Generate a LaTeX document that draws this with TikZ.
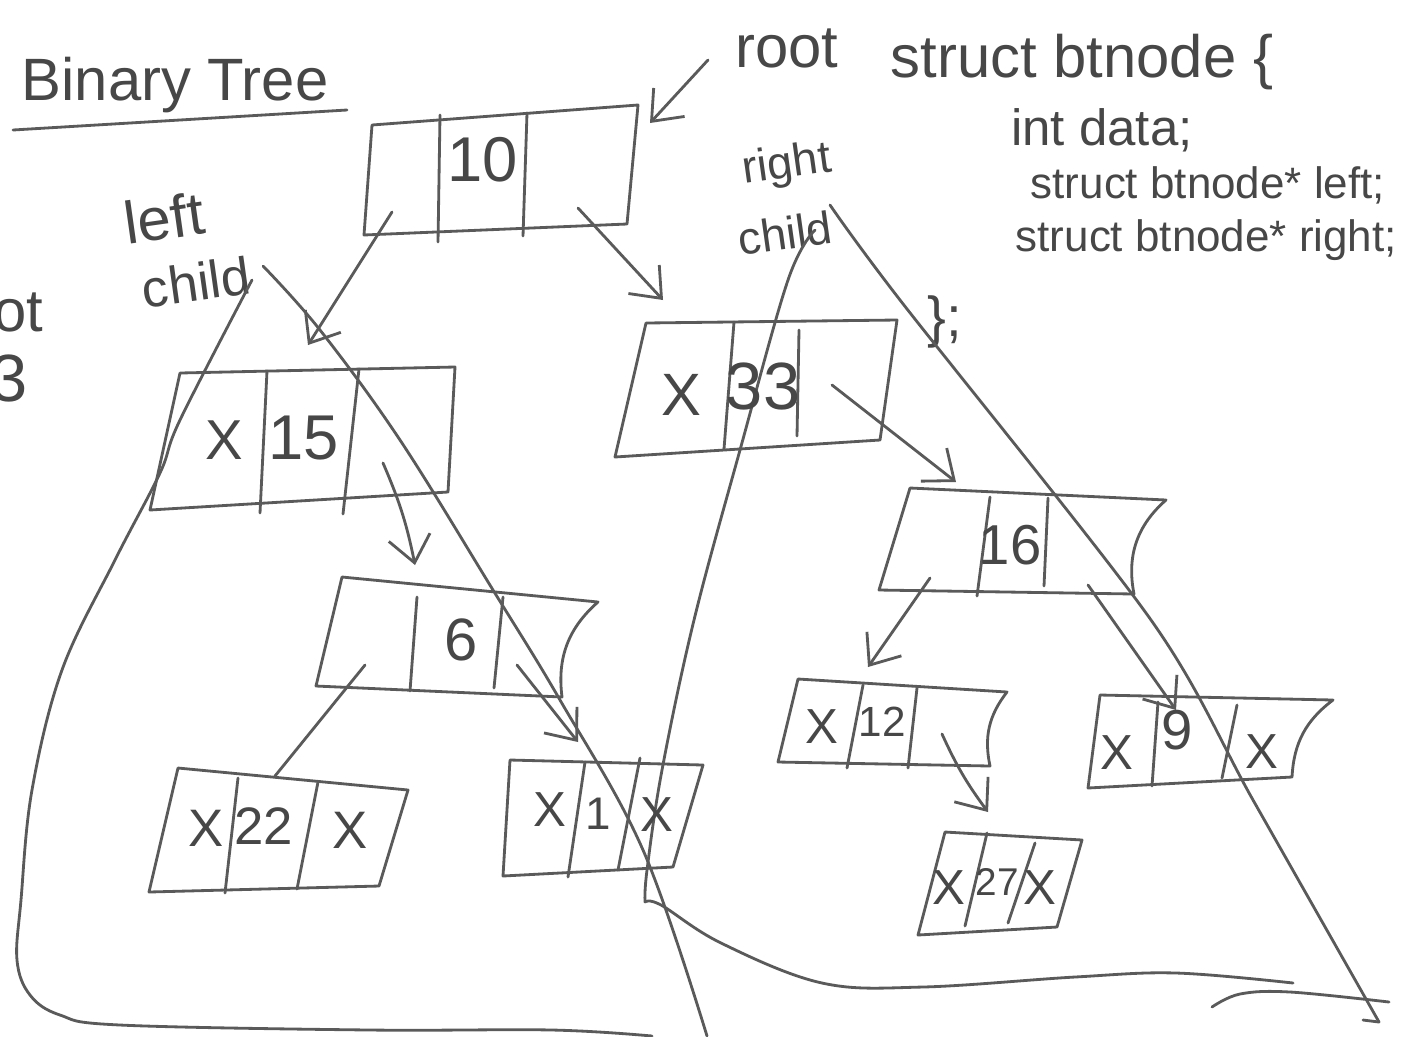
\documentclass[tikz,border=0pt]{standalone}
\usepackage{fontspec}
\setmainfont{Liberation Sans}
\usetikzlibrary{arrows.meta,calc}
\definecolor{ink}{HTML}{5A5A5A}
\definecolor{pencil}{HTML}{474747}
\tikzset{
  pen/.style={draw=ink, line width=0.8pt, line cap=round, line join=round},
  ptr/.style={pen, -{Straight Barb[length=2.6mm,width=4.2mm]}},
  hand/.style={text=pencil, inner sep=0pt, font=\fontsize{#1}{#1}\selectfont},
  hand/.default=16,
  rside/.style={}, lside/.style={}
}
% name, TL, TR, BR, BL, divider1 top, divider1 bottom, divider2 top, divider2 bottom
\newcommand\btbox[9]{%
  \coordinate (#1-tl) at (#2);
  \coordinate (#1-tr) at (#3);
  \coordinate (#1-br) at (#4);
  \coordinate (#1-bl) at (#5);
  \coordinate (#1-d1t) at (#6);
  \coordinate (#1-d1b) at (#7);
  \coordinate (#1-d2t) at (#8);
  \coordinate (#1-d2b) at (#9);
  \draw[pen] (#1-tl) -- (#1-tr) to[rside] (#1-br) -- (#1-bl) to[lside] (#1-tl);
  \draw[pen] (#1-d1t) -- (#1-d1b);
  \draw[pen] (#1-d2t) -- (#1-d2b);
}
\begin{document}
\begin{tikzpicture}[x=0.01cm,y=-0.01cm]
\useasboundingbox (0,0) rectangle (1413,1036);
\fill[white] (0,0) rectangle (1413,1036);

% ---------- headings and notes ----------
\node[hand=17] (title) at (175,85) {Binary Tree};
\coordinate (ul-a) at (13,130);
\coordinate (ul-b) at (347,110);
\draw[pen] (ul-a) -- (ul-b);

\node[hand=17] (rootlbl) at (787,48) {root};
\coordinate (rootarr) at (708,60);

\node[hand=17] (s1) at (1082,62) {struct btnode \{};
\node[hand=14.5] (s2) at (1102,130) {int data;};
\node[hand=12.5, anchor=west] (s3) at (1030,185) {struct btnode* left;};
\node[hand=12.5, anchor=west] (s4) at (1015,240) {struct btnode* right;};
\node[hand=16] (s5) at (945,322) {\};};

\node[hand=17, anchor=east] (cut1) at (44,312) {ot};
\node[hand=19, anchor=east] (cut2) at (28,378) {3};

\node[hand=17, rotate=8] (lc1) at (164,218) {left};
\node[hand=15, rotate=8] (lc2) at (196,282) {child};
\node[hand=13, rotate=8] (rc1) at (787,166) {right};
\node[hand=13, rotate=8] (rc2) at (785,233) {child};

% ---------- subtree outlines ----------
\draw[pen] plot[smooth, tension=0.6] coordinates {(263,266) (320,330) (400,440) (493,590) (560,700) (643,850) (707,1036)};
\draw[pen] plot[smooth, tension=0.6] coordinates {(252,280) (180,420) (160,473) (115,560) (62,670) (32,790) (21,900) (17,960) (30,995) (60,1015) (120,1025) (370,1030) (552,1030) (652,1036)};
\draw[pen] plot[smooth, tension=0.6] coordinates {(815,230) (788,280) (740,450) (694,620) (662,770) (647,870) (645,902)};
\draw[pen] plot[smooth, tension=0.6] coordinates {(645,902) (661,905) (721,943) (822,983) (923,987) (1075,977) (1176,973) (1293,983)};
\draw[pen] plot[smooth, tension=0.6] coordinates {(1212,1007) (1240,994) (1290,992) (1389,1002)};
\draw[pen] plot[smooth, tension=0.5] coordinates {(830,205) (900,300) (1151,620) (1253,800) (1379,1022)};
\draw[pen] (1379,1022) -- (1363,1020);

% ---------- tree nodes ----------
\btbox{n10}{372,125}{638,105}{627,224}{364,235}{440,115}{438,242}{527,113}{523,236}
\node[hand=18] (n10-b) at (483,160) {10};

\btbox{n15}{180,373}{455,367}{448,492}{150,510}{267,371}{260,513}{359,369}{343,514}
\node[hand=16] (n15-a) at (224,440) {X};
\node[hand=18] (n15-b) at (304,438) {15};

\btbox{n33}{646,323}{897,320}{880,440}{615,457}{734,322}{724,449}{799,330}{797,436}
\node[hand=17] (n33-a) at (681,395) {X};
\node[hand=19] (n33-b) at (763,386) {33};

\btbox{n22}{178,768}{408,790}{379,886}{149,892}{238,778}{225,893}{318,782}{297,889}
\node[hand=15] (n22-a) at (206,828) {X};
\node[hand=15] (n22-b) at (264,826) {22};
\node[hand=15] (n22-c) at (350,830) {X};

\btbox{n1}{510,760}{703,765}{673,867}{503,876}{585,762}{568,877}{640,758}{618,870}
\node[hand=14] (n1-a) at (550,810) {X};
\node[hand=13] (n1-b) at (598,814) {1};
\node[hand=14] (n1-c) at (657,815) {X};

\btbox{n27}{945,832}{1082,840}{1057,927}{918,935}{987,833}{965,926}{1035,843}{1008,923}
\node[hand=14] (n27-a) at (949,888) {X};
\node[hand=11] (n27-b) at (997,882) {27};
\node[hand=14] (n27-c) at (1040,888) {X};

% boxes whose right side is drawn hollowed in
\tikzset{rside/.style={bend right=28}}
\btbox{n6}{342,577}{598,602}{562,697}{316,686}{417,597}{410,691}{503,597}{494,688}
\node[hand=17] (n6-b) at (461,640) {6};

\tikzset{rside/.style={bend right=30}}
\btbox{n16}{910,488}{1166,500}{1134,594}{879,590}{990,497}{977,596}{1048,498}{1044,586}
\node[hand=16] (n16-b) at (1010,545) {16};

\tikzset{rside/.style={bend right=25}}
\btbox{n12}{798,679}{1007,692}{990,766}{778,762}{863,685}{847,768}{917,688}{908,768}
\node[hand=14] (n12-a) at (822,727) {X};
\node[hand=12] (n12-b) at (882,722) {12};

\btbox{n9}{1100,695}{1333,700}{1292,777}{1088,788}{1158,702}{1152,786}{1237,705}{1222,778}
\tikzset{rside/.style={}}
\node[hand=14] (n9-a) at (1117,753) {X};
\node[hand=16] (n9-b) at (1177,730) {9};
\node[hand=14] (n9-c) at (1262,752) {X};

% ---------- pointer ends ----------
\coordinate (n10-lp) at (392,212);
\coordinate (n10-rp) at (578,208);
\coordinate (n15-in) at (308,345);
\coordinate (n33-in) at (663,300);
\coordinate (n15-rp) at (383,463);
\coordinate (n6-in)  at (415,565);
\coordinate (n33-rp) at (832,385);
\coordinate (n16-in) at (956,482);
\coordinate (n6-lp)  at (365,665);
\coordinate (n22-in) at (275,776);
\coordinate (n6-rp)  at (517,665);
\coordinate (n1-in)  at (578,742);
\coordinate (n16-lp) at (930,578);
\coordinate (n12-in) at (868,667);
\coordinate (n16-rp) at (1088,585);
\coordinate (n9-in)  at (1176,710);
\coordinate (n12-rp) at (942,734);
\coordinate (n27-in) at (988,812);
\coordinate (root-in) at (650,123);

% ---------- pointers ----------
\draw[ptr] (rootarr) -- (root-in);
\draw[ptr] (n10-lp) -- (n15-in);
\draw[ptr] (n10-rp) -- (n33-in);
\draw[ptr] (n15-rp) to[bend left=6] (n6-in);
\draw[ptr] (n33-rp) -- (n16-in);
\draw[pen] (n6-lp) -- (n22-in);
\draw[ptr] (n6-rp) -- (n1-in);
\draw[ptr] (n16-lp) -- (n12-in);
\draw[ptr] (n16-rp) -- (n9-in);
\draw[ptr] (n12-rp) to[bend right=6] (n27-in);
\end{tikzpicture}
\end{document}
